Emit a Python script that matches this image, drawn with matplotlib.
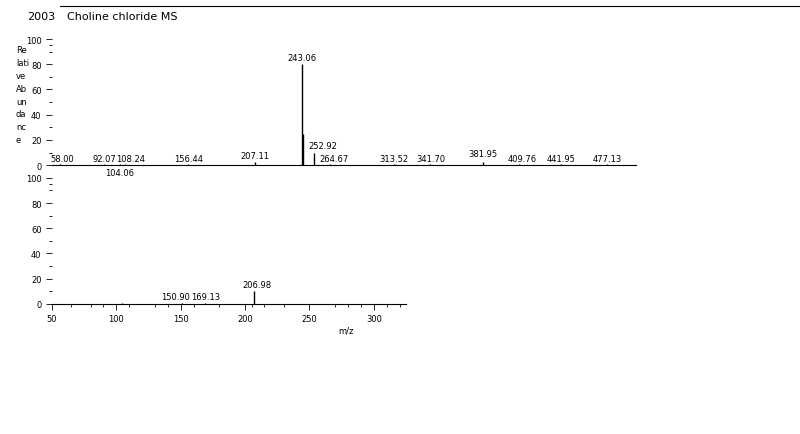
import matplotlib.pyplot as plt
import numpy as np

top_mz = [58.00, 92.07, 104.06, 108.24, 156.44, 207.11, 243.06, 244.5, 252.92, 264.67,
          313.52, 341.70, 381.95, 409.76, 441.95, 477.13]
top_int = [0.8, 0.8, 0.8, 0.8, 0.8, 2.5, 80, 25, 10, 0.8, 0.8, 0.8, 2.5, 0.8, 0.8, 0.8]
top_labels = ['58.00', '92.07', '104.06', '108.24', '156.44', '207.11', '243.06', '', '252.92',
              '264.67', '313.52', '341.70', '381.95', '409.76', '441.95', '477.13']
top_label_y = [2, 2, -9, 2, 2, 4, 82, 0, 12, 2, 2, 2, 6, 2, 2, 2]
top_label_dx = [2, 0, 0, 4, 0, 0, 0, 0, 6, 3, 0, 0, 0, 2, 0, 0]

bot_mz = [104.0, 150.90, 169.13, 206.98]
bot_int = [0.8, 0.5, 0.8, 10]
bot_labels = ['', '150.90', '169.13', '206.98']
bot_label_dx = [0, -5, 0, 2]

fs = 6
fig = plt.figure(figsize=(8, 4.35), dpi=100)

ax1 = fig.add_axes([0.065, 0.618, 0.73, 0.29])
ax1.vlines(top_mz, 0, top_int, color='black', lw=1)
for m, lab, ly, dx in zip(top_mz, top_labels, top_label_y, top_label_dx):
    if lab:
        ax1.text(m + dx, ly, lab, fontsize=fs, ha='center', va='bottom')
ax1.set_xlim(52, 499)
ax1.set_ylim(0, 100)
ax1.set_xticks([])

ax2 = fig.add_axes([0.065, 0.299, 0.4425, 0.29])
ax2.vlines(bot_mz, 0, bot_int, color='black', lw=1)
for m, lab, h, dx in zip(bot_mz, bot_labels, bot_int, bot_label_dx):
    if lab:
        ax2.text(m + dx, max(h, 1) + 1.5, lab, fontsize=fs, ha='center', va='bottom')
ax2.set_xlim(51.5, 325)
ax2.set_ylim(0, 100)
ax2.set_xticks([50, 100, 150, 200, 250, 300])
ax2.set_xticks([65, 80, 90, 110, 130, 140, 160, 180, 205, 215, 230, 270, 280, 290, 310, 320],
               minor=True)
ax2.set_xlabel('m/z', fontsize=fs)
ax2.xaxis.set_label_coords(0.83, -0.17)

for ax in (ax1, ax2):
    for s in ('top', 'right', 'left'):
        ax.spines[s].set_visible(False)
    ax.spines['bottom'].set_linewidth(0.8)
    ax.set_yticks([0, 20, 40, 60, 80, 100])
    ax.set_yticks([10, 30, 50, 70, 90, 95], minor=True)
    ax.tick_params(axis='both', labelsize=fs, length=4, width=0.6)
    ax.tick_params(which='minor', length=2, width=0.6)

fig.text(0.034, 0.96, '2003', fontsize=8, va='center')
fig.text(0.084, 0.96, 'Choline chloride MS', fontsize=8, va='center')
fig.add_artist(plt.Line2D([0.075, 1.0], [0.984, 0.984], color='black', lw=0.8))
fig.text(0.02, 0.78, 'Re\nlati\nve\nAb\nun\nda\nnc\ne', fontsize=6, va='center',
         linespacing=1.55)

fig.savefig('out.png', dpi=100)
